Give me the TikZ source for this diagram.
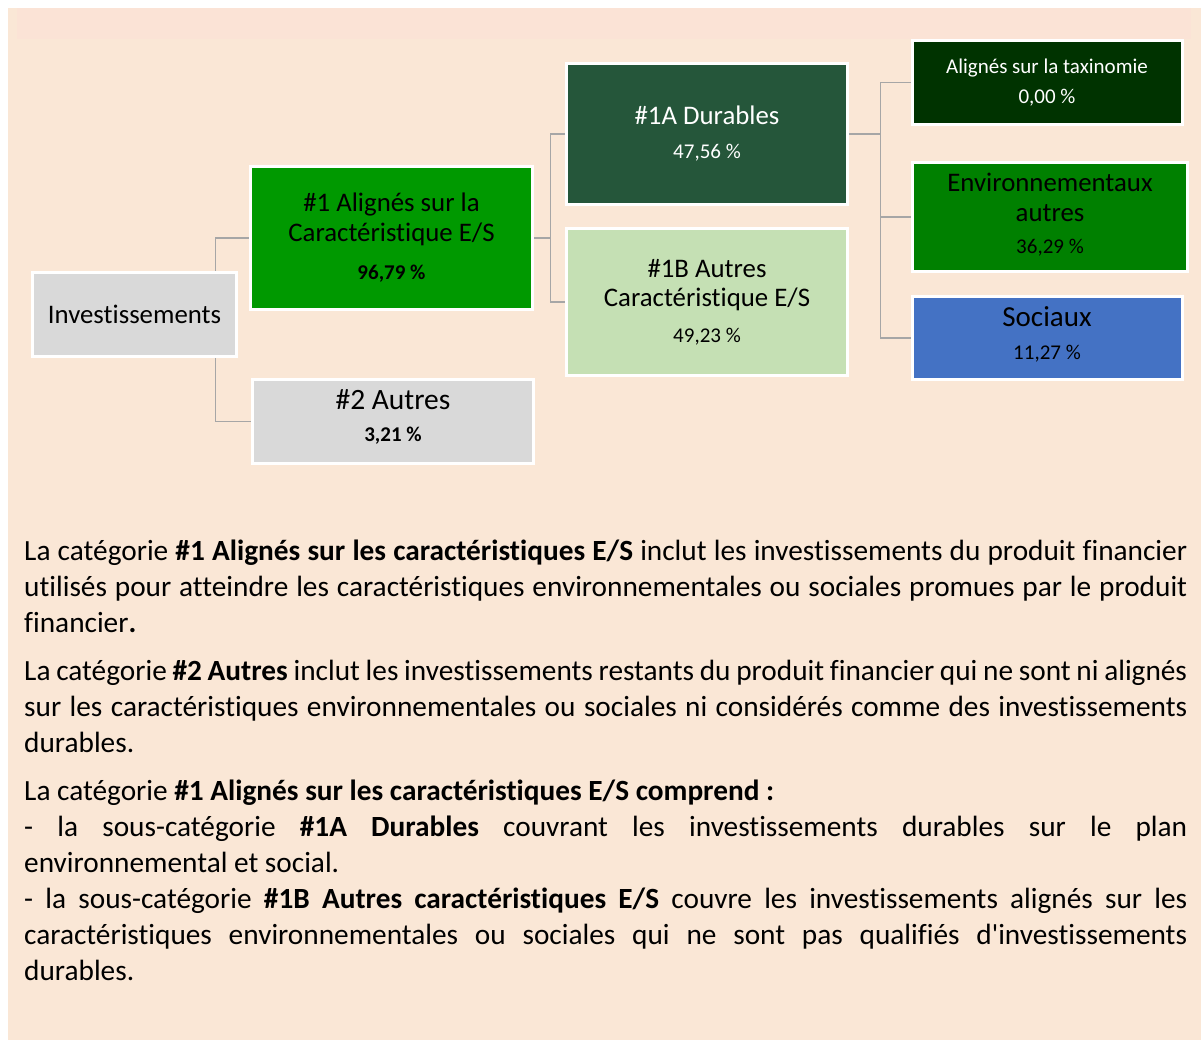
\documentclass[tikz,border=0pt]{standalone}
\usepackage{fontspec}
\setmainfont{Carlito}[Ligatures={NoCommon,TeXOff}]
\usetikzlibrary{backgrounds}

\definecolor{panelbg}{RGB}{250,231,214}
\definecolor{stripbg}{RGB}{251,227,214}
\definecolor{boxgray}{RGB}{217,217,217}
\definecolor{esgreen}{RGB}{0,153,0}
\definecolor{durgreen}{RGB}{37,86,58}
\definecolor{lightgreen}{RGB}{197,224,180}
\definecolor{taxgreen}{RGB}{0,51,0}
\definecolor{envgreen}{RGB}{0,128,0}
\definecolor{socblue}{RGB}{68,114,196}
\definecolor{linkgray}{RGB}{166,166,166}

\newcommand{\pcttxt}[1]{{\fontsize{21}{25}\selectfont #1 \%}}

\begin{document}
\begin{tikzpicture}[x=1pt,y=-1pt,
    box/.style={draw=white,line width=3pt,inner sep=0pt,align=center,
        font=\fontsize{26.8}{30}\selectfont},
    conn/.style={draw=linkgray,line width=1.5pt}]

    \useasboundingbox (0,0) rectangle (1204,1041);

    % First level
    \node[box,fill=boxgray,minimum width=204pt,minimum height=84pt] (inv) at (134.5,314.5) {Investissements};

    % Second level
    \node[box,fill=esgreen,minimum width=282pt,minimum height=143pt] (a1) at (391.5,238)
        {\#1 Alignés sur la\\Caractéristique E/S\\[8pt]\textbf{\pcttxt{96,79}}};
    \node[box,fill=boxgray,minimum width=281pt,minimum height=84pt,text depth=11pt,
        font=\fontsize{29.5}{32}\selectfont] (a2) at (393,421.5)
        {\#2 Autres\\\textbf{\pcttxt{3,21}}};

    % Third level
    \node[box,fill=durgreen,text=white,minimum width=281pt,minimum height=141pt,
        font=\fontsize{26.8}{34}\selectfont] (b1) at (707,134)
        {\#1A Durables\\\pcttxt{47,56}};
    \node[box,fill=lightgreen,minimum width=281pt,minimum height=147pt,
        font=\fontsize{26.8}{29}\selectfont] (b2) at (707,302)
        {\#1B Autres\\Caractéristique E/S\\[7pt]\pcttxt{49,23}};

    % Fourth level
    \node[box,fill=taxgreen,text=white,minimum width=270pt,minimum height=84pt,
        font=\fontsize{21}{30}\selectfont] (c1) at (1047,82.5)
        {Alignés sur la taxinomie\\\pcttxt{0,00}};
    \node[box,fill=envgreen,minimum width=275pt,minimum height=109pt,text depth=7pt] (c2) at (1050,217)
        {Environnementaux\\autres\\[2pt]\pcttxt{36,29}};
    \node[box,fill=socblue,minimum width=270pt,minimum height=83pt,text depth=9pt,
        font=\fontsize{29}{33}\selectfont] (c3) at (1047,338)
        {Sociaux\\\pcttxt{11,27}};

    % Explanations under the tree
    \node[anchor=north west,inner sep=0pt,text width=1163pt,align=justify,
        font=\fontsize{29.3}{36}\selectfont] (notes) at (24,539.5) {%
        \tolerance=10000\hbadness=10000\hyphenpenalty=10000\exhyphenpenalty=10000
        La catégorie \textbf{\#1 Alignés sur les caractéristiques E/S} inclut les investissements du produit financier\break
        utilisés pour atteindre les caractéristiques environnementales ou sociales promues par le produit\break
        financier\textbf{.}\par\vspace{12pt}
        La catégorie \textbf{\#2 Autres} inclut les investissements restants du produit financier qui ne sont ni alignés\break
        sur les caractéristiques environnementales ou sociales ni considérés comme des investissements\break
        durables.\par\vspace{12pt}
        La catégorie \textbf{\#1 Alignés sur les caractéristiques E/S comprend :}\hfill\break
        - la sous-catégorie \textbf{\#1A Durables} couvrant les investissements durables sur le plan\break
        environnemental et social.\hfill\break
        - la sous-catégorie \textbf{\#1B Autres caractéristiques E/S} couvre les investissements alignés sur les\break
        caractéristiques environnementales ou sociales qui ne sont pas qualifiés d'investissements\break
        durables.};

    \begin{scope}[on background layer]
        % Page, panel and header strip
        \fill[white] (0,0) rectangle (1204,1041);
        \fill[panelbg] (8,8) rectangle (1201,1040);
        \fill[stripbg] (17,8) rectangle (1191,39);

        % Elbow connectors
        \draw[conn] (a1.west) -| ([xshift=-22.5pt]inv.east) |- (a2.west);
        \draw[conn] (a1.east) -- ([xshift=16.5pt]a1.east);
        \draw[conn] (b1.west) -| ([xshift=16.5pt]a1.east) |- (b2.west);
        \draw[conn] (b1.east) -- ([xshift=31.5pt]b1.east);
        \draw[conn] (c1.west) -| ([xshift=31.5pt]b1.east) |- (c3.west);
        \draw[conn] ([xshift=31.5pt]b1.east) |- (c2.west);
    \end{scope}

\end{tikzpicture}
\end{document}
